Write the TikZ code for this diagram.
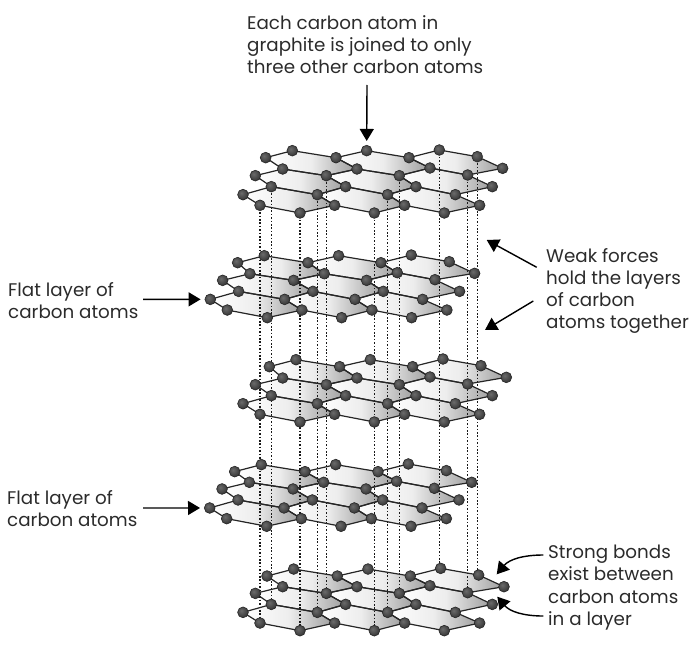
\documentclass[tikz,border=0pt]{standalone}
\usepackage{fontspec}
\usepackage{xcolor}
\usetikzlibrary{arrows.meta}
\setmainfont{Poppins}
\definecolor{planegray}{HTML}{9C9C9C}
\definecolor{planelight}{HTML}{EDEDED}
\definecolor{inkgray}{HTML}{2B2B2B}
\pgfdeclareradialshading{atomball}{\pgfpoint{-8bp}{8bp}}{
  color(0bp)=(black!58); color(20bp)=(black!72); color(42bp)=(black!88); color(100bp)=(black!88)}
\pgfdeclarelayer{planes}
\pgfdeclarelayer{gaps}
\pgfdeclarelayer{bonds}
\pgfsetlayers{planes,gaps,bonds,main}
\tikzset{
  carbon/.style={circle,inner sep=0pt,minimum size=10.8pt,draw=black!85,line width=0.6pt,shading=atomball},
  hexplane/.style={left color=white,right color=planegray,middle color=planelight},
  bondedge/.style={draw=black!85,line width=1.2pt,line join=round},
  gapline/.style={draw=black!90,line width=1.25pt,dash pattern=on 1.6pt off 1.8pt},
  lab/.style={font=\fontsize{18.3}{22.2}\selectfont,text=inkgray,align=left,inner sep=0pt,anchor=north west},
  pointer/.style={draw=black,line width=1.4pt,-{Triangle[length=12pt,width=14pt]}},
}
% #1 prefix, #2 position of the sheet, #3 offset of its back row
\newcommand{\carbonsheet}[3]{
\begin{scope}[shift={#2},x=0.3333pt,y=-0.3333pt,name prefix=#1-]
% back row
\begin{scope}[shift={#3}]
\foreach \atm/\ax/\ay in {a1/107/68,a2/187/47,a3/318/68,a4/410/47,a5/537/68,a6/628/45,a7/742/65,a8/818/100}
  \node[carbon] (\atm) at (\ax,\ay) {};
\end{scope}
% the other rows
\foreach \atm/\ax/\ay in {b1/158/102,b2/289/122,b3/381/102,b4/508/122,b5/600/99,b6/713/120,b7/787/155,
  c1/76/122,c2/124/155,c3/262/179,c4/347/155,c5/473/179,c6/558/155,c7/676/179,
  d1/39/179,d2/90/211,d3/210/234,d4/314/211,d5/433/234,d6/524/211,d7/643/234,d8/749/211}
  \node[carbon] (\atm) at (\ax,\ay) {};
% hexagons
\foreach \hA/\hB/\hC/\hD/\hE/\hF in {a1/a2/a3/b3/b2/b1,a3/a4/a5/b5/b4/b3,a5/a6/a7/a8/b6/b5,
  c1/b1/b2/c4/c3/c2,b2/b3/b4/c6/c5/c4,b4/b5/b6/b7/c7/c6,
  d1/c2/c3/d4/d3/d2,c3/c4/c5/d6/d5/d4,c5/c6/c7/d8/d7/d6}{
  \begin{pgfonlayer}{planes}
  \shade[hexplane] (\hA.center) -- (\hB.center) -- (\hC.center) -- (\hD.center) -- (\hE.center) -- (\hF.center) -- cycle;
  \end{pgfonlayer}
  \begin{pgfonlayer}{bonds}
  \draw[bondedge] (\hA.center) -- (\hB.center) -- (\hC.center) -- (\hD.center) -- (\hE.center) -- (\hF.center) -- cycle;
  \end{pgfonlayer}
}
\end{scope}
}

\begin{document}
\begin{tikzpicture}[x=1pt,y=-1pt]
\useasboundingbox (0,0) rectangle (700,658);
% Sheets of carbon atoms, top to bottom
\carbonsheet{la}{(230,135)}{(0,0)}
\carbonsheet{lb}{(197.3,239.7)}{(14,1)}
\carbonsheet{lc}{(230,344)}{(11,0)}
\carbonsheet{ld}{(196.7,448.3)}{(7,2)}
\carbonsheet{le}{(230,552.7)}{(4,2)}
% Dotted lines between top and bottom sheet
\begin{pgfonlayer}{gaps}
\foreach \atm in {d2,c2,d3,c3,b2,d5,c5,b4,a6,b6,a7}
  \draw[gapline] (la-\atm.center) -- (la-\atm.center |- le-\atm.center);
\end{pgfonlayer}
% Labels
\node[lab] (toplabel) at (247,15) {Each carbon atom in\\graphite is joined to only\\three other carbon atoms};
\node[lab] (flatupper) at (8,282) {Flat layer of\\carbon atoms};
\node[lab] (flatlower) at (7,490) {Flat layer of\\carbon atoms};
\node[lab] (weaklabel) at (546,248) {Weak forces\\hold the layers\\of carbon\\atoms together};
\node[lab] (stronglabel) at (548,545) {Strong bonds\\exist between\\carbon atoms\\in a layer};
% Arrows
\coordinate (topstart) at (367,85);
\coordinate (flatupperstart) at (143,299.3);
\coordinate (flatlowerstart) at (143,508);
\coordinate (weakupstart) at (536.7,267.3);
\coordinate (weakupend) at (486.7,240);
\coordinate (weakdownstart) at (533.3,301);
\coordinate (weakdownend) at (485,330);
\coordinate (strongupstart) at (543.3,555);
\coordinate (strongupend) at (496.7,574.3);
\coordinate (strongdownstart) at (543.3,616);
\coordinate (strongdownend) at (497.3,596.7);
\draw[pointer,shorten >=4pt] (topstart) -- (la-a4);
\draw[pointer,shorten >=4pt] (flatupperstart) -- (lb-d1);
\draw[pointer,shorten >=4pt] (flatlowerstart) -- (ld-d1);
\draw[pointer] (weakupstart) -- (weakupend);
\draw[pointer] (weakdownstart) -- (weakdownend);
\draw[pointer] (strongupstart) to[out=180,in=50] (strongupend);
\draw[pointer] (strongdownstart) to[out=180,in=-50] (strongdownend);
\end{tikzpicture}
\end{document}
